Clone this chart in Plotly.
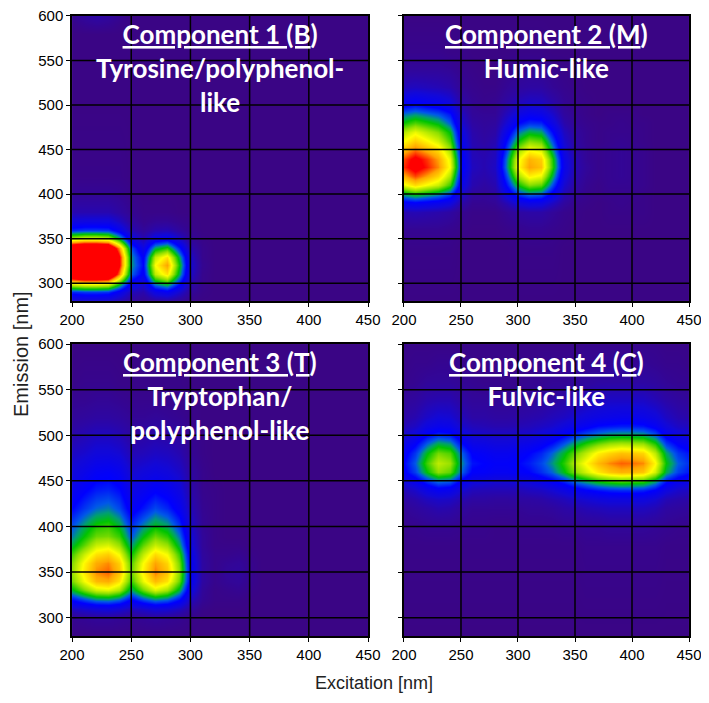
import plotly.graph_objects as go

# excitation wavelengths (columns), nm
EX = [200, 210, 220, 230, 240, 250, 260, 270, 280, 290, 300, 310, 320,
      330, 340, 350, 360, 370, 380, 390, 400, 410, 420, 430, 440, 450]

# emission wavelengths (rows) for each component, nm
EM_C1 = [280, 290, 300, 310, 320, 330, 340, 350, 360, 370, 380, 400, 420, 500, 580, 590, 600]
EM_C2 = [280, 340, 360, 380, 390, 400, 410, 420, 430, 440, 450, 460, 470, 480, 490, 500, 520, 540, 560, 600]
EM_C3 = [280, 300, 310, 320, 330, 340, 350, 360, 370, 380, 390, 400, 420, 440, 460, 480, 500, 520, 540, 560, 600]
EM_C4 = [280, 380, 400, 420, 430, 440, 450, 460, 470, 480, 490, 500, 510, 520, 540, 560, 580, 600]

X_TICKS = [200, 250, 300, 350, 400, 450]
Y_TICKS = [300, 350, 400, 450, 500, 550, 600]

TITLES = [
    "<u>Component 1 (B</u>)<br>Tyrosine/polyphenol-<br>like",
    "<u>Component 2 (M</u>)<br>Humic-like",
    "<u>Component 3 (T</u>)<br>Tryptophan/<br>polyphenol-like",
    "<u>Component 4 (C</u>)<br>Fulvic-like",
]

# loadings (one row per emission value, one column per EX)
C1_Z = [
    [0.14, 0.15, 0.15, 0.14, 0.10, 0.05, 0.03, 0.06, 0.07, 0.04, 0.01, 0, 0, 0, 0, 0, 0, 0, 0, 0, 0, 0, 0, 0, 0, 0],
    [0.34, 0.36, 0.36, 0.35, 0.25, 0.12, 0.09, 0.22, 0.26, 0.16, 0.05, 0.01, 0, 0, 0, 0, 0, 0, 0, 0, 0, 0, 0, 0, 0, 0],
    [0.76, 0.80, 0.80, 0.77, 0.56, 0.26, 0.18, 0.46, 0.54, 0.33, 0.10, 0.02, 0, 0, 0, 0, 0, 0, 0, 0, 0, 0, 0, 0, 0, 0],
    [1.24, 1.31, 1.31, 1.27, 0.91, 0.41, 0.27, 0.68, 0.79, 0.48, 0.15, 0.02, 0, 0, 0, 0, 0, 0, 0, 0, 0, 0, 0, 0, 0, 0],
    [1.38, 1.45, 1.45, 1.41, 1.02, 0.46, 0.30, 0.75, 0.88, 0.53, 0.17, 0.03, 0, 0, 0, 0, 0, 0, 0, 0, 0, 0, 0, 0, 0, 0],
    [1.38, 1.45, 1.45, 1.41, 1.02, 0.45, 0.28, 0.68, 0.79, 0.48, 0.15, 0.02, 0, 0, 0, 0, 0, 0, 0, 0, 0, 0, 0, 0, 0, 0],
    [1.21, 1.28, 1.28, 1.24, 0.89, 0.39, 0.21, 0.48, 0.55, 0.33, 0.10, 0.02, 0, 0, 0, 0, 0, 0, 0, 0, 0, 0, 0, 0, 0, 0],
    [0.69, 0.73, 0.73, 0.70, 0.51, 0.22, 0.11, 0.24, 0.27, 0.16, 0.05, 0.01, 0, 0, 0, 0, 0, 0, 0, 0, 0, 0, 0, 0, 0, 0],
    [0.34, 0.36, 0.36, 0.35, 0.25, 0.11, 0.05, 0.10, 0.11, 0.06, 0.02, 0, 0, 0, 0, 0, 0, 0, 0, 0, 0, 0, 0, 0, 0, 0],
    [0.19, 0.20, 0.20, 0.20, 0.14, 0.06, 0.02, 0.04, 0.04, 0.02, 0.01, 0, 0, 0, 0, 0, 0, 0, 0, 0, 0, 0, 0, 0, 0, 0],
    [0.10, 0.10, 0.10, 0.10, 0.07, 0.03, 0.01, 0.01, 0.01, 0, 0, 0, 0, 0, 0, 0, 0, 0, 0, 0, 0, 0, 0, 0, 0, 0],
    [0.04, 0.04, 0.04, 0.04, 0.03, 0.01, 0, 0, 0, 0, 0, 0, 0, 0, 0, 0, 0, 0, 0, 0, 0, 0, 0, 0, 0, 0],
    [0.01, 0.01, 0.01, 0.01, 0.01, 0, 0, 0, 0, 0, 0, 0, 0, 0, 0, 0, 0, 0, 0, 0, 0, 0, 0, 0, 0, 0],
    [0, 0, 0, 0, 0, 0, 0, 0, 0, 0, 0, 0, 0, 0, 0, 0, 0, 0, 0, 0, 0, 0, 0, 0, 0, 0],
    [0, 0, 0, 0, 0, 0, 0, 0, 0, 0, 0, 0, 0, 0, 0, 0, 0, 0, 0, 0, 0, 0, 0, 0, 0, 0],
    [0.01, 0.03, 0.04, 0.03, 0.01, 0, 0, 0, 0, 0, 0, 0, 0, 0, 0, 0, 0, 0, 0, 0, 0, 0, 0, 0, 0, 0],
    [0.03, 0.06, 0.08, 0.06, 0.03, 0, 0, 0, 0, 0, 0, 0, 0, 0, 0, 0, 0, 0, 0, 0, 0, 0, 0, 0, 0, 0],
]

C2_Z = [
    [0, 0, 0, 0, 0, 0, 0, 0, 0, 0, 0, 0, 0, 0, 0, 0, 0, 0, 0, 0, 0, 0, 0, 0, 0, 0],
    [0.01, 0.01, 0.01, 0.01, 0.01, 0, 0, 0, 0, 0, 0.01, 0.01, 0.01, 0.01, 0, 0, 0, 0, 0, 0, 0, 0, 0, 0, 0, 0],
    [0.03, 0.03, 0.03, 0.03, 0.02, 0.01, 0, 0, 0, 0.01, 0.02, 0.03, 0.03, 0.02, 0.01, 0, 0, 0, 0, 0, 0, 0, 0, 0, 0, 0],
    [0.10, 0.11, 0.10, 0.09, 0.07, 0.03, 0.01, 0.01, 0.01, 0.04, 0.07, 0.08, 0.08, 0.05, 0.02, 0.01, 0, 0, 0.01, 0.01, 0.01, 0.01, 0, 0, 0, 0],
    [0.26, 0.28, 0.26, 0.24, 0.20, 0.09, 0.03, 0.03, 0.04, 0.11, 0.19, 0.22, 0.21, 0.14, 0.06, 0.02, 0.01, 0, 0.01, 0.02, 0.01, 0.01, 0, 0, 0, 0],
    [0.48, 0.53, 0.49, 0.45, 0.37, 0.16, 0.06, 0.05, 0.07, 0.22, 0.36, 0.42, 0.40, 0.27, 0.11, 0.05, 0.02, 0.01, 0.02, 0.02, 0.02, 0.01, 0, 0, 0, 0],
    [0.73, 0.80, 0.74, 0.69, 0.56, 0.24, 0.10, 0.07, 0.10, 0.32, 0.52, 0.62, 0.59, 0.39, 0.16, 0.07, 0.03, 0.01, 0.03, 0.03, 0.03, 0.02, 0, 0, 0, 0],
    [0.87, 0.95, 0.88, 0.81, 0.66, 0.28, 0.11, 0.09, 0.12, 0.39, 0.65, 0.77, 0.73, 0.49, 0.20, 0.09, 0.04, 0.02, 0.03, 0.04, 0.03, 0.02, 0, 0, 0, 0],
    [0.97, 1.05, 0.98, 0.90, 0.74, 0.32, 0.13, 0.10, 0.14, 0.45, 0.75, 0.88, 0.84, 0.56, 0.23, 0.10, 0.05, 0.02, 0.03, 0.04, 0.03, 0.02, 0, 0, 0, 0],
    [0.95, 1.03, 0.96, 0.88, 0.72, 0.31, 0.12, 0.10, 0.13, 0.44, 0.73, 0.86, 0.82, 0.55, 0.22, 0.10, 0.04, 0.02, 0.03, 0.04, 0.03, 0.02, 0, 0, 0, 0],
    [0.85, 0.92, 0.86, 0.80, 0.65, 0.28, 0.11, 0.09, 0.12, 0.38, 0.64, 0.75, 0.71, 0.47, 0.19, 0.08, 0.04, 0.02, 0.03, 0.04, 0.03, 0.02, 0, 0, 0, 0],
    [0.75, 0.82, 0.76, 0.70, 0.57, 0.25, 0.10, 0.07, 0.10, 0.32, 0.52, 0.62, 0.59, 0.39, 0.16, 0.07, 0.03, 0.01, 0.02, 0.03, 0.02, 0.01, 0, 0, 0, 0],
    [0.67, 0.73, 0.67, 0.62, 0.51, 0.22, 0.09, 0.06, 0.08, 0.25, 0.42, 0.49, 0.47, 0.31, 0.13, 0.06, 0.03, 0.01, 0.02, 0.02, 0.02, 0.01, 0, 0, 0, 0],
    [0.53, 0.58, 0.54, 0.50, 0.40, 0.17, 0.07, 0.05, 0.06, 0.18, 0.30, 0.35, 0.34, 0.22, 0.09, 0.04, 0.02, 0.01, 0.01, 0.02, 0.01, 0.01, 0, 0, 0, 0],
    [0.42, 0.45, 0.42, 0.39, 0.32, 0.14, 0.05, 0.04, 0.04, 0.13, 0.21, 0.25, 0.23, 0.16, 0.06, 0.03, 0.01, 0, 0.01, 0.01, 0.01, 0, 0, 0, 0, 0],
    [0.28, 0.31, 0.28, 0.26, 0.21, 0.09, 0.04, 0.02, 0.03, 0.08, 0.13, 0.16, 0.15, 0.10, 0.04, 0.02, 0.01, 0, 0, 0, 0, 0, 0, 0, 0, 0],
    [0.12, 0.13, 0.12, 0.11, 0.09, 0.04, 0.02, 0.01, 0.01, 0.04, 0.06, 0.07, 0.07, 0.04, 0.02, 0.01, 0, 0, 0, 0, 0, 0, 0, 0, 0, 0],
    [0.05, 0.05, 0.05, 0.05, 0.04, 0.02, 0.01, 0, 0, 0.02, 0.03, 0.04, 0.03, 0.02, 0.01, 0, 0, 0, 0, 0, 0, 0, 0, 0, 0, 0],
    [0.02, 0.02, 0.02, 0.02, 0.01, 0.01, 0, 0, 0, 0, 0.01, 0.01, 0.01, 0, 0, 0, 0, 0, 0, 0, 0, 0, 0, 0, 0, 0],
    [0, 0, 0, 0, 0, 0, 0, 0, 0, 0, 0, 0, 0, 0, 0, 0, 0, 0, 0, 0, 0, 0, 0, 0, 0, 0],
]

C3_Z = [
    [0, 0, 0, 0, 0, 0, 0, 0, 0, 0, 0, 0, 0, 0, 0, 0, 0, 0, 0, 0, 0, 0, 0, 0, 0, 0],
    [0.03, 0.04, 0.05, 0.05, 0.04, 0.03, 0.04, 0.05, 0.04, 0.03, 0.01, 0, 0, 0, 0, 0, 0, 0, 0, 0, 0, 0, 0, 0, 0, 0],
    [0.13, 0.16, 0.18, 0.19, 0.17, 0.12, 0.15, 0.18, 0.17, 0.13, 0.06, 0.01, 0, 0, 0, 0, 0, 0, 0, 0, 0, 0, 0, 0, 0, 0],
    [0.32, 0.39, 0.45, 0.46, 0.42, 0.30, 0.39, 0.45, 0.42, 0.32, 0.14, 0.04, 0.01, 0.01, 0.01, 0, 0, 0, 0, 0, 0, 0, 0, 0, 0, 0],
    [0.50, 0.61, 0.70, 0.72, 0.66, 0.46, 0.60, 0.71, 0.65, 0.49, 0.22, 0.05, 0.01, 0.02, 0.03, 0.01, 0, 0, 0, 0, 0, 0, 0, 0, 0, 0],
    [0.61, 0.74, 0.85, 0.87, 0.79, 0.56, 0.73, 0.85, 0.79, 0.60, 0.27, 0.07, 0.02, 0.04, 0.05, 0.02, 0, 0, 0, 0, 0, 0, 0, 0, 0, 0],
    [0.64, 0.78, 0.90, 0.93, 0.84, 0.60, 0.77, 0.91, 0.84, 0.63, 0.28, 0.07, 0.02, 0.05, 0.06, 0.02, 0, 0, 0, 0, 0, 0, 0, 0, 0, 0],
    [0.62, 0.76, 0.87, 0.90, 0.82, 0.58, 0.75, 0.88, 0.81, 0.61, 0.27, 0.07, 0.02, 0.04, 0.05, 0.02, 0, 0, 0, 0, 0, 0, 0, 0, 0, 0],
    [0.57, 0.69, 0.79, 0.82, 0.74, 0.52, 0.68, 0.80, 0.74, 0.56, 0.25, 0.06, 0.02, 0.02, 0.03, 0.01, 0, 0, 0, 0, 0, 0, 0, 0, 0, 0],
    [0.49, 0.59, 0.69, 0.71, 0.64, 0.45, 0.59, 0.69, 0.64, 0.48, 0.21, 0.05, 0.01, 0.01, 0.01, 0, 0, 0, 0, 0, 0, 0, 0, 0, 0, 0],
    [0.43, 0.52, 0.60, 0.61, 0.56, 0.39, 0.51, 0.60, 0.55, 0.42, 0.19, 0.05, 0.01, 0, 0, 0, 0, 0, 0, 0, 0, 0, 0, 0, 0, 0],
    [0.39, 0.47, 0.54, 0.56, 0.50, 0.35, 0.44, 0.51, 0.47, 0.36, 0.16, 0.04, 0.01, 0, 0, 0, 0, 0, 0, 0, 0, 0, 0, 0, 0, 0],
    [0.30, 0.36, 0.41, 0.43, 0.38, 0.26, 0.32, 0.38, 0.34, 0.26, 0.12, 0.03, 0.01, 0, 0, 0, 0, 0, 0, 0, 0, 0, 0, 0, 0, 0],
    [0.24, 0.29, 0.33, 0.34, 0.31, 0.21, 0.25, 0.29, 0.26, 0.20, 0.09, 0.02, 0.01, 0, 0, 0, 0, 0, 0, 0, 0, 0, 0, 0, 0, 0],
    [0.19, 0.23, 0.27, 0.28, 0.25, 0.16, 0.19, 0.21, 0.19, 0.15, 0.07, 0.02, 0, 0, 0, 0, 0, 0, 0, 0, 0, 0, 0, 0, 0, 0],
    [0.14, 0.16, 0.19, 0.19, 0.17, 0.11, 0.12, 0.14, 0.13, 0.10, 0.04, 0.01, 0, 0, 0, 0, 0, 0, 0, 0, 0, 0, 0, 0, 0, 0],
    [0.09, 0.11, 0.13, 0.13, 0.11, 0.07, 0.08, 0.09, 0.08, 0.06, 0.03, 0.01, 0, 0, 0, 0, 0, 0, 0, 0, 0, 0, 0, 0, 0, 0],
    [0.05, 0.06, 0.07, 0.07, 0.06, 0.04, 0.04, 0.05, 0.04, 0.03, 0.01, 0, 0, 0, 0, 0, 0, 0, 0, 0, 0, 0, 0, 0, 0, 0],
    [0.03, 0.03, 0.04, 0.04, 0.03, 0.02, 0.02, 0.02, 0.02, 0.01, 0.01, 0, 0, 0, 0, 0, 0, 0, 0, 0, 0, 0, 0, 0, 0, 0],
    [0.01, 0.02, 0.02, 0.02, 0.01, 0.01, 0.01, 0.01, 0.01, 0.01, 0, 0, 0, 0, 0, 0, 0, 0, 0, 0, 0, 0, 0, 0, 0, 0],
    [0, 0, 0, 0, 0, 0, 0, 0, 0, 0, 0, 0, 0, 0, 0, 0, 0, 0, 0, 0, 0, 0, 0, 0, 0, 0],
]

C4_Z = [
    [0, 0, 0, 0, 0, 0, 0, 0, 0, 0, 0, 0, 0, 0, 0, 0, 0, 0, 0, 0, 0, 0, 0, 0, 0, 0],
    [0.01, 0.01, 0.01, 0.01, 0.01, 0.01, 0.01, 0.01, 0.01, 0.01, 0.01, 0.01, 0.01, 0.01, 0.01, 0.01, 0.02, 0.02, 0.02, 0.02, 0.02, 0.02, 0.02, 0.01, 0.01, 0.01],
    [0.02, 0.02, 0.03, 0.03, 0.03, 0.02, 0.02, 0.02, 0.01, 0.01, 0.02, 0.02, 0.02, 0.02, 0.03, 0.03, 0.04, 0.04, 0.05, 0.05, 0.05, 0.05, 0.04, 0.03, 0.02, 0.02],
    [0.04, 0.06, 0.08, 0.10, 0.09, 0.06, 0.04, 0.04, 0.04, 0.04, 0.04, 0.05, 0.05, 0.06, 0.08, 0.09, 0.11, 0.12, 0.13, 0.13, 0.13, 0.13, 0.11, 0.07, 0.06, 0.05],
    [0.07, 0.09, 0.13, 0.15, 0.14, 0.10, 0.07, 0.07, 0.06, 0.06, 0.07, 0.07, 0.08, 0.10, 0.12, 0.15, 0.17, 0.19, 0.20, 0.20, 0.20, 0.20, 0.17, 0.11, 0.09, 0.08],
    [0.11, 0.15, 0.22, 0.26, 0.24, 0.17, 0.12, 0.11, 0.11, 0.11, 0.11, 0.13, 0.14, 0.17, 0.21, 0.25, 0.29, 0.32, 0.34, 0.35, 0.35, 0.34, 0.29, 0.20, 0.15, 0.13],
    [0.19, 0.25, 0.35, 0.42, 0.40, 0.28, 0.20, 0.19, 0.17, 0.17, 0.19, 0.20, 0.24, 0.28, 0.34, 0.42, 0.47, 0.53, 0.56, 0.58, 0.57, 0.56, 0.47, 0.32, 0.25, 0.22],
    [0.28, 0.37, 0.52, 0.63, 0.59, 0.41, 0.29, 0.28, 0.26, 0.26, 0.28, 0.30, 0.35, 0.41, 0.51, 0.62, 0.70, 0.78, 0.83, 0.86, 0.85, 0.83, 0.70, 0.48, 0.37, 0.32],
    [0.30, 0.40, 0.57, 0.68, 0.64, 0.45, 0.32, 0.30, 0.28, 0.28, 0.30, 0.33, 0.38, 0.45, 0.55, 0.67, 0.76, 0.85, 0.90, 0.93, 0.92, 0.90, 0.76, 0.52, 0.40, 0.35],
    [0.27, 0.36, 0.51, 0.61, 0.58, 0.41, 0.29, 0.27, 0.25, 0.25, 0.27, 0.30, 0.34, 0.41, 0.50, 0.60, 0.68, 0.77, 0.81, 0.84, 0.83, 0.81, 0.68, 0.47, 0.36, 0.32],
    [0.22, 0.29, 0.41, 0.49, 0.46, 0.32, 0.23, 0.22, 0.20, 0.20, 0.22, 0.24, 0.27, 0.32, 0.40, 0.48, 0.55, 0.61, 0.65, 0.67, 0.66, 0.65, 0.55, 0.37, 0.29, 0.25],
    [0.16, 0.21, 0.30, 0.35, 0.33, 0.23, 0.17, 0.16, 0.15, 0.15, 0.16, 0.17, 0.20, 0.23, 0.29, 0.35, 0.40, 0.44, 0.47, 0.48, 0.48, 0.47, 0.40, 0.27, 0.21, 0.18],
    [0.11, 0.14, 0.21, 0.24, 0.23, 0.16, 0.12, 0.11, 0.10, 0.10, 0.11, 0.12, 0.14, 0.16, 0.20, 0.24, 0.27, 0.31, 0.32, 0.33, 0.33, 0.32, 0.27, 0.19, 0.14, 0.13],
    [0.08, 0.10, 0.15, 0.18, 0.17, 0.12, 0.08, 0.08, 0.07, 0.07, 0.08, 0.09, 0.10, 0.12, 0.14, 0.17, 0.20, 0.22, 0.23, 0.24, 0.24, 0.23, 0.20, 0.14, 0.10, 0.09],
    [0.05, 0.06, 0.09, 0.10, 0.10, 0.07, 0.05, 0.05, 0.04, 0.04, 0.05, 0.05, 0.06, 0.07, 0.08, 0.10, 0.11, 0.13, 0.14, 0.14, 0.14, 0.14, 0.11, 0.08, 0.06, 0.05],
    [0.02, 0.03, 0.05, 0.05, 0.05, 0.04, 0.03, 0.02, 0.02, 0.02, 0.02, 0.03, 0.03, 0.04, 0.04, 0.05, 0.06, 0.07, 0.07, 0.07, 0.07, 0.07, 0.06, 0.04, 0.03, 0.03],
    [0.01, 0.02, 0.02, 0.03, 0.03, 0.02, 0.01, 0.01, 0.01, 0.01, 0.01, 0.01, 0.02, 0.02, 0.02, 0.03, 0.03, 0.03, 0.04, 0.04, 0.04, 0.04, 0.03, 0.02, 0.02, 0.01],
    [0.01, 0.01, 0.01, 0.01, 0.01, 0.01, 0.01, 0.01, 0.01, 0.01, 0.01, 0.01, 0.01, 0.01, 0.01, 0.01, 0.02, 0.02, 0.02, 0.02, 0.02, 0.02, 0.02, 0.01, 0.01, 0.01],
]

COMPONENTS = [(EM_C1, C1_Z), (EM_C2, C2_Z), (EM_C3, C3_Z), (EM_C4, C4_Z)]

EEM_SCALE = [
    [0.0, "#3a0585"], [0.08, "#2c06a6"], [0.18, "#1208d8"], [0.30, "#0000ff"],
    [0.40, "#0058e8"], [0.46, "#00a070"], [0.52, "#00c400"], [0.63, "#90e000"],
    [0.75, "#ffff00"], [0.88, "#ffa500"], [1.0, "#ff0000"],
]

# the page body adds an 8 px margin on every side, so the figure is 16 px
# smaller than the window and everything sits 8 px lower/right
X_DOMAINS = [[0.0924, 0.5195], [0.5714, 0.9827], [0.0924, 0.5195], [0.5714, 0.9827]]
Y_DOMAINS = [[0.5735, 0.9884], [0.5735, 0.9884], [0.0859, 0.5109], [0.0859, 0.5109]]

TICK_FONT = dict(family="Liberation Sans, Arial, sans-serif", size=15, color="black")

fig = go.Figure()
shapes = []
annotations = []
for i, ((em, z), title) in enumerate(zip(COMPONENTS, TITLES)):
    n = "" if i == 0 else str(i + 1)
    fig.add_trace(go.Heatmap(
        x=EX, y=em, z=z, xaxis="x" + n, yaxis="y" + n,
        colorscale=EEM_SCALE, zmin=0, zmax=1, zsmooth="best",
        showscale=False, hoverinfo="skip",
    ))
    fig.layout["xaxis" + n] = dict(
        domain=X_DOMAINS[i], anchor="y" + n, range=[200, 450], tickvals=X_TICKS,
        ticks="outside", ticklen=4, tickcolor="black", showgrid=False,
        showline=True, mirror=True, linecolor="black", linewidth=1.5,
        tickfont=TICK_FONT, zeroline=False, automargin=False,
        ticklabeloverflow="allow",
    )
    fig.layout["yaxis" + n] = dict(
        domain=Y_DOMAINS[i], anchor="x" + n, range=[280, 600], tickvals=Y_TICKS,
        ticks="outside", ticklen=4, tickcolor="black", showgrid=False,
        showline=True, mirror=True, linecolor="black", linewidth=1.5,
        tickfont=TICK_FONT, zeroline=False, automargin=False,
        showticklabels=(i % 2 == 0), ticklabeloverflow="allow",
    )
    # grid lines have to sit above the heatmap
    for xv in X_TICKS[1:-1]:
        shapes.append(dict(type="line", xref="x" + n, yref="y" + n, x0=xv, x1=xv,
                           y0=280, y1=600, layer="above",
                           line=dict(color="black", width=1.5)))
    for yv in Y_TICKS[:-1]:
        shapes.append(dict(type="line", xref="x" + n, yref="y" + n, x0=200, x1=450,
                           y0=yv, y1=yv, layer="above",
                           line=dict(color="black", width=1.5)))
    annotations.append(dict(
        text=title, xref="paper", yref="paper",
        x=sum(X_DOMAINS[i]) / 2, y=Y_DOMAINS[i][1], xanchor="center", yanchor="top",
        yshift=0, showarrow=False, align="center",
        font=dict(family="Lato, Carlito, sans-serif", size=26, color="white", weight="bold"),
    ))

annotations.append(dict(
    text="Excitation [nm]", xref="paper", yref="paper", x=0.5281, y=0,
    xanchor="center", yanchor="bottom", showarrow=False,
    font=dict(family="Liberation Sans, Arial, sans-serif", size=18, color="#222222"),
))
annotations.append(dict(
    text="Emission [nm]", xref="paper", yref="paper", x=0, y=0.4964,
    xanchor="left", yanchor="middle", showarrow=False, textangle=-90,
    font=dict(family="Liberation Sans, Arial, sans-serif", size=20, color="#222222"),
))

fig.update_layout(
    width=693, height=687, margin=dict(l=0, r=0, t=0, b=0),
    paper_bgcolor="white", plot_bgcolor="white",
    shapes=shapes, annotations=annotations, showlegend=False,
)

fig.write_html("out.html")
